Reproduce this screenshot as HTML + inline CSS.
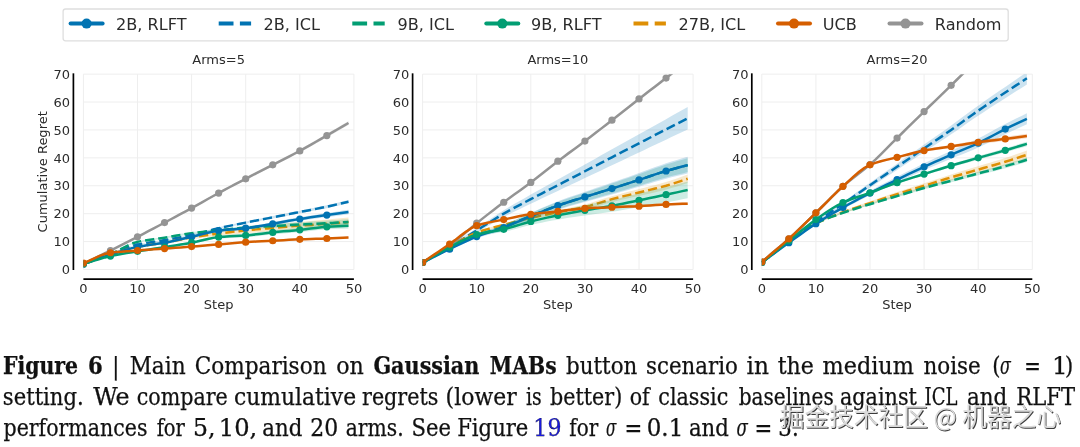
<!DOCTYPE html>
<html><head><meta charset="utf-8"><style>html,body{margin:0;padding:0;background:#fff;width:1080px;height:447px;overflow:hidden;position:relative}</style></head>
<body>
<svg width="1080" height="447" viewBox="0 0 1080 447" style="position:absolute;left:0;top:0;will-change:transform">
<defs>
<clipPath id="c0"><rect x="83.40" y="74.13" width="270.50" height="195.37"/></clipPath>
<clipPath id="c1"><rect x="422.60" y="74.13" width="270.50" height="195.37"/></clipPath>
<clipPath id="c2"><rect x="761.80" y="74.13" width="270.50" height="195.37"/></clipPath>
</defs>
<rect width="1080" height="447" fill="#fff"/>
<path d="M83.40 269.50H353.90M83.40 241.59H353.90M83.40 213.68H353.90M83.40 185.77H353.90M83.40 157.86H353.90M83.40 129.95H353.90M83.40 102.04H353.90M83.40 74.13H353.90M83.40 269.50V74.13M137.50 269.50V74.13M191.60 269.50V74.13M245.70 269.50V74.13M299.80 269.50V74.13M353.90 269.50V74.13" stroke="#eeeeee" stroke-width="1" fill="none"/>
<g clip-path="url(#c0)">
<path d="M83.40 263.92 L88.81 261.20 L94.22 258.49 L99.63 255.78 L105.04 253.06 L110.45 250.32 L115.86 247.57 L121.27 244.82 L126.68 242.05 L132.09 239.26 L137.50 236.45 L142.91 233.60 L148.32 230.73 L153.73 227.83 L159.14 224.93 L164.55 222.01 L169.96 219.10 L175.37 216.17 L180.78 213.24 L186.19 210.28 L191.60 207.30 L197.01 204.27 L202.42 201.19 L207.83 198.10 L213.24 195.04 L218.65 192.03 L224.06 189.09 L229.47 186.18 L234.88 183.31 L240.29 180.45 L245.70 177.60 L251.11 174.75 L256.52 171.91 L261.93 169.09 L267.34 166.27 L272.75 163.44 L278.16 160.63 L283.57 157.84 L288.98 155.05 L294.39 152.20 L299.80 149.29 L305.21 146.28 L310.62 143.19 L316.03 140.05 L321.44 136.89 L326.85 133.74 L332.26 130.58 L337.67 127.40 L343.08 124.20 L348.49 121.02 L348.49 124.93 L343.08 128.03 L337.67 131.14 L332.26 134.25 L326.85 137.33 L321.44 140.40 L316.03 143.48 L310.62 146.54 L305.21 149.55 L299.80 152.48 L294.39 155.31 L288.98 158.08 L283.57 160.79 L278.16 163.50 L272.75 166.23 L267.34 168.98 L261.93 171.72 L256.52 174.47 L251.11 177.22 L245.70 179.99 L240.29 182.76 L234.88 185.54 L229.47 188.34 L224.06 191.16 L218.65 194.02 L213.24 196.95 L207.83 199.94 L202.42 202.95 L197.01 205.94 L191.60 208.90 L186.19 211.80 L180.78 214.67 L175.37 217.53 L169.96 220.37 L164.55 223.21 L159.14 226.04 L153.73 228.87 L148.32 231.68 L142.91 234.48 L137.50 237.24 L132.09 239.98 L126.68 242.69 L121.27 245.38 L115.86 248.05 L110.45 250.72 L105.04 253.38 L99.63 256.02 L94.22 258.65 L88.81 261.28 L83.40 263.92Z" fill="#949494" fill-opacity="0.2" stroke="none"/>
<path d="M83.40 263.92 L88.81 261.24 L94.22 258.57 L99.63 255.90 L105.04 253.22 L110.45 250.52 L115.86 247.81 L121.27 245.10 L126.68 242.37 L132.09 239.62 L137.50 236.85 L142.91 234.04 L148.32 231.21 L153.73 228.35 L159.14 225.48 L164.55 222.61 L169.96 219.74 L175.37 216.85 L180.78 213.96 L186.19 211.04 L191.60 208.10 L197.01 205.11 L202.42 202.07 L207.83 199.02 L213.24 195.99 L218.65 193.03 L224.06 190.12 L229.47 187.26 L234.88 184.43 L240.29 181.61 L245.70 178.79 L251.11 175.98 L256.52 173.19 L261.93 170.41 L267.34 167.62 L272.75 164.84 L278.16 162.07 L283.57 159.32 L288.98 156.56 L294.39 153.76 L299.80 150.88 L305.21 147.91 L310.62 144.86 L316.03 141.77 L321.44 138.65 L326.85 135.53 L332.26 132.41 L337.67 129.27 L343.08 126.12 L348.49 122.97" stroke="#949494" stroke-width="2.5" fill="none" stroke-linejoin="round"/>
<circle cx="83.40" cy="263.92" r="3.6" fill="#949494"/>
<circle cx="110.45" cy="250.52" r="3.6" fill="#949494"/>
<circle cx="137.50" cy="236.85" r="3.6" fill="#949494"/>
<circle cx="164.55" cy="222.61" r="3.6" fill="#949494"/>
<circle cx="191.60" cy="208.10" r="3.6" fill="#949494"/>
<circle cx="218.65" cy="193.03" r="3.6" fill="#949494"/>
<circle cx="245.70" cy="178.79" r="3.6" fill="#949494"/>
<circle cx="272.75" cy="164.84" r="3.6" fill="#949494"/>
<circle cx="299.80" cy="150.88" r="3.6" fill="#949494"/>
<circle cx="326.85" cy="135.53" r="3.6" fill="#949494"/>
<path d="M83.40 263.92 L88.81 261.93 L94.22 259.93 L99.63 257.93 L105.04 255.95 L110.45 253.98 L115.86 251.92 L121.27 249.77 L126.68 247.68 L132.09 245.81 L137.50 244.32 L142.91 243.19 L148.32 242.26 L153.73 241.42 L159.14 240.59 L164.55 239.68 L169.96 238.71 L175.37 237.73 L180.78 236.71 L186.19 235.64 L191.60 234.49 L197.01 233.18 L202.42 231.72 L207.83 230.20 L213.24 228.71 L218.65 227.34 L224.06 226.10 L229.47 224.93 L234.88 223.81 L240.29 222.70 L245.70 221.59 L251.11 220.47 L256.52 219.38 L261.93 218.29 L267.34 217.20 L272.75 216.11 L278.16 215.02 L283.57 213.92 L288.98 212.83 L294.39 211.73 L299.80 210.64 L305.21 209.56 L310.62 208.49 L316.03 207.42 L321.44 206.32 L326.85 205.16 L332.26 203.93 L337.67 202.64 L343.08 201.31 L348.49 200.00 L348.49 203.35 L343.08 204.59 L337.67 205.85 L332.26 207.08 L326.85 208.24 L321.44 209.33 L316.03 210.36 L310.62 211.36 L305.21 212.36 L299.80 213.37 L294.39 214.40 L288.98 215.43 L283.57 216.45 L278.16 217.48 L272.75 218.50 L267.34 219.53 L261.93 220.54 L256.52 221.56 L251.11 222.59 L245.70 223.64 L240.29 224.68 L234.88 225.72 L229.47 226.78 L224.06 227.88 L218.65 229.05 L213.24 230.35 L207.83 231.77 L202.42 233.22 L197.01 234.61 L191.60 235.85 L186.19 236.94 L180.78 237.94 L175.37 238.89 L169.96 239.80 L164.55 240.71 L159.14 241.55 L153.73 242.31 L148.32 243.08 L142.91 243.95 L137.50 245.00 L132.09 246.42 L126.68 248.22 L121.27 250.25 L115.86 252.33 L110.45 254.32 L105.04 256.22 L99.63 258.14 L94.22 260.07 L88.81 261.99 L83.40 263.92Z" fill="#0173B2" fill-opacity="0.2" stroke="none"/>
<path d="M83.40 263.92 L88.81 261.96 L94.22 260.00 L99.63 258.04 L105.04 256.09 L110.45 254.15 L115.86 252.12 L121.27 250.01 L126.68 247.95 L132.09 246.12 L137.50 244.66 L142.91 243.57 L148.32 242.67 L153.73 241.86 L159.14 241.07 L164.55 240.19 L169.96 239.25 L175.37 238.31 L180.78 237.33 L186.19 236.29 L191.60 235.17 L197.01 233.90 L202.42 232.47 L207.83 230.98 L213.24 229.53 L218.65 228.19 L224.06 226.99 L229.47 225.86 L234.88 224.76 L240.29 223.69 L245.70 222.61 L251.11 221.53 L256.52 220.47 L261.93 219.42 L267.34 218.36 L272.75 217.31 L278.16 216.25 L283.57 215.19 L288.98 214.13 L294.39 213.07 L299.80 212.01 L305.21 210.96 L310.62 209.93 L316.03 208.89 L321.44 207.82 L326.85 206.70 L332.26 205.50 L337.67 204.24 L343.08 202.95 L348.49 201.68" stroke="#0173B2" stroke-width="2.5" fill="none" stroke-linejoin="round" stroke-dasharray="9.25 4"/>
<path d="M83.40 263.92 L88.81 261.96 L94.22 259.98 L99.63 258.01 L105.04 256.09 L110.45 254.25 L115.86 252.44 L121.27 250.62 L126.68 248.89 L132.09 247.31 L137.50 245.98 L142.91 244.91 L148.32 243.99 L153.73 243.15 L159.14 242.29 L164.55 241.34 L169.96 240.24 L175.37 239.05 L180.78 237.83 L186.19 236.65 L191.60 235.58 L197.01 234.62 L202.42 233.71 L207.83 232.84 L213.24 232.01 L218.65 231.22 L224.06 230.46 L229.47 229.72 L234.88 229.02 L240.29 228.35 L245.70 227.69 L251.11 227.06 L256.52 226.45 L261.93 225.87 L267.34 225.29 L272.75 224.72 L278.16 224.17 L283.57 223.62 L288.98 223.08 L294.39 222.55 L299.80 222.04 L305.21 221.54 L310.62 221.06 L316.03 220.59 L321.44 220.11 L326.85 219.63 L332.26 219.12 L337.67 218.61 L343.08 218.10 L348.49 217.59 L348.49 226.52 L343.08 226.85 L337.67 227.18 L332.26 227.51 L326.85 227.83 L321.44 228.13 L316.03 228.43 L310.62 228.72 L305.21 229.01 L299.80 229.33 L294.39 229.66 L288.98 230.00 L283.57 230.36 L278.16 230.73 L272.75 231.10 L267.34 231.49 L261.93 231.88 L256.52 232.29 L251.11 232.71 L245.70 233.16 L240.29 233.63 L234.88 234.13 L229.47 234.65 L224.06 235.19 L218.65 235.77 L213.24 236.39 L207.83 237.03 L202.42 237.72 L197.01 238.45 L191.60 239.23 L186.19 240.11 L180.78 241.11 L175.37 242.15 L169.96 243.16 L164.55 244.07 L159.14 244.84 L153.73 245.52 L148.32 246.18 L142.91 246.91 L137.50 247.80 L132.09 248.95 L126.68 250.35 L121.27 251.90 L115.86 253.53 L110.45 255.16 L105.04 256.82 L99.63 258.56 L94.22 260.34 L88.81 262.14 L83.40 263.92Z" fill="#DE8F05" fill-opacity="0.2" stroke="none"/>
<path d="M83.40 263.92 L88.81 262.05 L94.22 260.16 L99.63 258.28 L105.04 256.45 L110.45 254.71 L115.86 252.99 L121.27 251.26 L126.68 249.62 L132.09 248.13 L137.50 246.89 L142.91 245.91 L148.32 245.08 L153.73 244.33 L159.14 243.57 L164.55 242.71 L169.96 241.70 L175.37 240.60 L180.78 239.47 L186.19 238.38 L191.60 237.40 L197.01 236.53 L202.42 235.71 L207.83 234.93 L213.24 234.20 L218.65 233.50 L224.06 232.83 L229.47 232.19 L234.88 231.57 L240.29 230.99 L245.70 230.43 L251.11 229.89 L256.52 229.37 L261.93 228.87 L267.34 228.39 L272.75 227.91 L278.16 227.45 L283.57 226.99 L288.98 226.54 L294.39 226.10 L299.80 225.68 L305.21 225.28 L310.62 224.89 L316.03 224.51 L321.44 224.12 L326.85 223.73 L332.26 223.32 L337.67 222.90 L343.08 222.47 L348.49 222.05" stroke="#DE8F05" stroke-width="2.5" fill="none" stroke-linejoin="round" stroke-dasharray="9.25 4"/>
<path d="M83.40 263.92 L88.81 261.94 L94.22 260.00 L99.63 258.05 L105.04 256.02 L110.45 253.86 L115.86 251.34 L121.27 248.46 L126.68 245.59 L132.09 243.08 L137.50 241.30 L142.91 240.15 L148.32 239.23 L153.73 238.44 L159.14 237.67 L164.55 236.83 L169.96 235.86 L175.37 234.85 L180.78 233.84 L186.19 232.90 L191.60 232.08 L197.01 231.38 L202.42 230.75 L207.83 230.17 L213.24 229.60 L218.65 229.00 L224.06 228.36 L229.47 227.70 L234.88 227.06 L240.29 226.45 L245.70 225.93 L251.11 225.48 L256.52 225.07 L261.93 224.69 L267.34 224.33 L272.75 223.97 L278.16 223.61 L283.57 223.28 L288.98 222.95 L294.39 222.62 L299.80 222.29 L305.21 221.95 L310.62 221.61 L316.03 221.28 L321.44 220.94 L326.85 220.61 L332.26 220.27 L337.67 219.93 L343.08 219.60 L348.49 219.26 L348.49 224.84 L343.08 225.07 L337.67 225.29 L332.26 225.51 L326.85 225.73 L321.44 225.95 L316.03 226.18 L310.62 226.40 L305.21 226.62 L299.80 226.84 L294.39 227.06 L288.98 227.28 L283.57 227.49 L278.16 227.72 L272.75 227.95 L267.34 228.20 L261.93 228.45 L256.52 228.71 L251.11 229.01 L245.70 229.34 L240.29 229.76 L234.88 230.25 L229.47 230.78 L224.06 231.33 L218.65 231.85 L213.24 232.33 L207.83 232.79 L202.42 233.26 L197.01 233.77 L191.60 234.36 L186.19 235.07 L180.78 235.89 L175.37 236.79 L169.96 237.69 L164.55 238.54 L159.14 239.27 L153.73 239.92 L148.32 240.59 L142.91 241.40 L137.50 242.44 L132.09 244.11 L126.68 246.50 L121.27 249.26 L115.86 252.02 L110.45 254.43 L105.04 256.47 L99.63 258.39 L94.22 260.23 L88.81 262.06 L83.40 263.92Z" fill="#029E73" fill-opacity="0.2" stroke="none"/>
<path d="M83.40 263.92 L88.81 262.00 L94.22 260.12 L99.63 258.22 L105.04 256.25 L110.45 254.15 L115.86 251.68 L121.27 248.86 L126.68 246.05 L132.09 243.60 L137.50 241.87 L142.91 240.77 L148.32 239.91 L153.73 239.18 L159.14 238.47 L164.55 237.68 L169.96 236.77 L175.37 235.82 L180.78 234.87 L186.19 233.98 L191.60 233.22 L197.01 232.58 L202.42 232.01 L207.83 231.48 L213.24 230.96 L218.65 230.43 L224.06 229.85 L229.47 229.24 L234.88 228.65 L240.29 228.10 L245.70 227.63 L251.11 227.24 L256.52 226.89 L261.93 226.57 L267.34 226.26 L272.75 225.96 L278.16 225.67 L283.57 225.38 L288.98 225.11 L294.39 224.84 L299.80 224.56 L305.21 224.29 L310.62 224.01 L316.03 223.73 L321.44 223.45 L326.85 223.17 L332.26 222.89 L337.67 222.61 L343.08 222.33 L348.49 222.05" stroke="#029E73" stroke-width="2.5" fill="none" stroke-linejoin="round" stroke-dasharray="9.25 4"/>
<path d="M83.40 263.92 L88.81 262.01 L94.22 260.07 L99.63 258.15 L105.04 256.27 L110.45 254.48 L115.86 252.71 L121.27 250.94 L126.68 249.25 L132.09 247.72 L137.50 246.44 L142.91 245.41 L148.32 244.56 L153.73 243.77 L159.14 242.95 L164.55 242.02 L169.96 240.93 L175.37 239.74 L180.78 238.48 L186.19 237.20 L191.60 235.93 L197.01 234.60 L202.42 233.16 L207.83 231.76 L213.24 230.51 L218.65 229.57 L224.06 228.91 L229.47 228.39 L234.88 227.92 L240.29 227.43 L245.70 226.83 L251.11 226.05 L256.52 225.14 L261.93 224.15 L267.34 223.13 L272.75 222.13 L278.16 221.14 L283.57 220.12 L288.98 219.10 L294.39 218.10 L299.80 217.16 L305.21 216.28 L310.62 215.45 L316.03 214.64 L321.44 213.84 L326.85 213.02 L332.26 212.21 L337.67 211.40 L343.08 210.58 L348.49 209.77 L348.49 214.24 L343.08 214.96 L337.67 215.68 L332.26 216.40 L326.85 217.13 L321.44 217.85 L316.03 218.56 L310.62 219.28 L305.21 220.02 L299.80 220.81 L294.39 221.65 L288.98 222.56 L283.57 223.49 L278.16 224.42 L272.75 225.32 L267.34 226.23 L261.93 227.16 L256.52 228.06 L251.11 228.88 L245.70 229.56 L240.29 230.07 L234.88 230.47 L229.47 230.85 L224.06 231.28 L218.65 231.84 L213.24 232.70 L207.83 233.85 L202.42 235.17 L197.01 236.51 L191.60 237.76 L186.19 238.93 L180.78 240.12 L175.37 241.29 L169.96 242.39 L164.55 243.39 L159.14 244.23 L153.73 244.95 L148.32 245.65 L142.91 246.42 L137.50 247.35 L132.09 248.54 L126.68 249.98 L121.27 251.58 L115.86 253.26 L110.45 254.94 L105.04 256.64 L99.63 258.42 L94.22 260.25 L88.81 262.10 L83.40 263.92Z" fill="#0173B2" fill-opacity="0.2" stroke="none"/>
<path d="M83.40 263.92 L88.81 262.05 L94.22 260.16 L99.63 258.28 L105.04 256.45 L110.45 254.71 L115.86 252.99 L121.27 251.26 L126.68 249.62 L132.09 248.13 L137.50 246.89 L142.91 245.92 L148.32 245.10 L153.73 244.36 L159.14 243.59 L164.55 242.71 L169.96 241.66 L175.37 240.52 L180.78 239.30 L186.19 238.07 L191.60 236.85 L197.01 235.55 L202.42 234.16 L207.83 232.80 L213.24 231.61 L218.65 230.71 L224.06 230.09 L229.47 229.62 L234.88 229.20 L240.29 228.75 L245.70 228.19 L251.11 227.46 L256.52 226.60 L261.93 225.65 L267.34 224.68 L272.75 223.73 L278.16 222.78 L283.57 221.81 L288.98 220.83 L294.39 219.88 L299.80 218.98 L305.21 218.15 L310.62 217.36 L316.03 216.60 L321.44 215.84 L326.85 215.08 L332.26 214.30 L337.67 213.54 L343.08 212.77 L348.49 212.01" stroke="#0173B2" stroke-width="2.5" fill="none" stroke-linejoin="round"/>
<circle cx="83.40" cy="263.92" r="3.6" fill="#0173B2"/>
<circle cx="110.45" cy="254.71" r="3.6" fill="#0173B2"/>
<circle cx="137.50" cy="246.89" r="3.6" fill="#0173B2"/>
<circle cx="164.55" cy="242.71" r="3.6" fill="#0173B2"/>
<circle cx="191.60" cy="236.85" r="3.6" fill="#0173B2"/>
<circle cx="218.65" cy="230.71" r="3.6" fill="#0173B2"/>
<circle cx="245.70" cy="228.19" r="3.6" fill="#0173B2"/>
<circle cx="272.75" cy="223.73" r="3.6" fill="#0173B2"/>
<circle cx="299.80" cy="218.98" r="3.6" fill="#0173B2"/>
<circle cx="326.85" cy="215.08" r="3.6" fill="#0173B2"/>
<path d="M83.40 263.92 L88.81 262.24 L94.22 260.49 L99.63 258.78 L105.04 257.19 L110.45 255.82 L115.86 254.65 L121.27 253.61 L126.68 252.65 L132.09 251.72 L137.50 250.79 L142.91 249.87 L148.32 248.98 L153.73 248.10 L159.14 247.22 L164.55 246.32 L169.96 245.40 L175.37 244.49 L180.78 243.55 L186.19 242.59 L191.60 241.57 L197.01 240.38 L202.42 239.02 L207.83 237.67 L213.24 236.51 L218.65 235.70 L224.06 235.21 L229.47 234.83 L234.88 234.51 L240.29 234.17 L245.70 233.74 L251.11 233.18 L256.52 232.50 L261.93 231.77 L267.34 231.05 L272.75 230.39 L278.16 229.80 L283.57 229.26 L288.98 228.72 L294.39 228.17 L299.80 227.59 L305.21 226.92 L310.62 226.18 L316.03 225.44 L321.44 224.76 L326.85 224.23 L332.26 223.84 L337.67 223.51 L343.08 223.21 L348.49 222.89 L348.49 228.47 L343.08 228.68 L337.67 228.87 L332.26 229.08 L326.85 229.36 L321.44 229.78 L316.03 230.33 L310.62 230.96 L305.21 231.59 L299.80 232.15 L294.39 232.62 L288.98 233.05 L283.57 233.47 L278.16 233.90 L272.75 234.37 L267.34 234.92 L261.93 235.53 L256.52 236.15 L251.11 236.71 L245.70 237.16 L240.29 237.47 L234.88 237.70 L229.47 237.91 L224.06 238.17 L218.65 238.55 L213.24 239.24 L207.83 240.29 L202.42 241.53 L197.01 242.77 L191.60 243.85 L186.19 244.75 L180.78 245.60 L175.37 246.42 L169.96 247.22 L164.55 248.03 L159.14 248.82 L153.73 249.58 L148.32 250.34 L142.91 251.12 L137.50 251.93 L132.09 252.75 L126.68 253.56 L121.27 254.41 L115.86 255.34 L110.45 256.39 L105.04 257.65 L99.63 259.12 L94.22 260.72 L88.81 262.35 L83.40 263.92Z" fill="#029E73" fill-opacity="0.2" stroke="none"/>
<path d="M83.40 263.92 L88.81 262.29 L94.22 260.61 L99.63 258.95 L105.04 257.42 L110.45 256.10 L115.86 255.00 L121.27 254.01 L126.68 253.10 L132.09 252.23 L137.50 251.36 L142.91 250.49 L148.32 249.66 L153.73 248.84 L159.14 248.02 L164.55 247.17 L169.96 246.31 L175.37 245.45 L180.78 244.58 L186.19 243.67 L191.60 242.71 L197.01 241.57 L202.42 240.27 L207.83 238.98 L213.24 237.88 L218.65 237.12 L224.06 236.69 L229.47 236.37 L234.88 236.10 L240.29 235.82 L245.70 235.45 L251.11 234.94 L256.52 234.32 L261.93 233.65 L267.34 232.98 L272.75 232.38 L278.16 231.85 L283.57 231.36 L288.98 230.88 L294.39 230.39 L299.80 229.87 L305.21 229.26 L310.62 228.57 L316.03 227.89 L321.44 227.27 L326.85 226.80 L332.26 226.46 L337.67 226.19 L343.08 225.94 L348.49 225.68" stroke="#029E73" stroke-width="2.5" fill="none" stroke-linejoin="round"/>
<circle cx="83.40" cy="263.92" r="3.6" fill="#029E73"/>
<circle cx="110.45" cy="256.10" r="3.6" fill="#029E73"/>
<circle cx="137.50" cy="251.36" r="3.6" fill="#029E73"/>
<circle cx="164.55" cy="247.17" r="3.6" fill="#029E73"/>
<circle cx="191.60" cy="242.71" r="3.6" fill="#029E73"/>
<circle cx="218.65" cy="237.12" r="3.6" fill="#029E73"/>
<circle cx="245.70" cy="235.45" r="3.6" fill="#029E73"/>
<circle cx="272.75" cy="232.38" r="3.6" fill="#029E73"/>
<circle cx="299.80" cy="229.87" r="3.6" fill="#029E73"/>
<circle cx="326.85" cy="226.80" r="3.6" fill="#029E73"/>
<path d="M83.40 263.08 L88.81 260.79 L94.22 258.28 L99.63 255.88 L105.04 253.90 L110.45 252.67 L115.86 252.02 L121.27 251.52 L126.68 251.12 L132.09 250.75 L137.50 250.35 L142.91 249.93 L148.32 249.52 L153.73 249.11 L159.14 248.71 L164.55 248.31 L169.96 247.91 L175.37 247.51 L180.78 247.11 L186.19 246.70 L191.60 246.27 L197.01 245.83 L202.42 245.37 L207.83 244.90 L213.24 244.42 L218.65 243.95 L224.06 243.47 L229.47 242.98 L234.88 242.49 L240.29 242.03 L245.70 241.64 L251.11 241.30 L256.52 241.00 L261.93 240.72 L267.34 240.44 L272.75 240.15 L278.16 239.85 L283.57 239.53 L288.98 239.22 L294.39 238.93 L299.80 238.67 L305.21 238.47 L310.62 238.30 L316.03 238.13 L321.44 237.96 L326.85 237.75 L332.26 237.49 L337.67 237.19 L343.08 236.88 L348.49 236.57 L348.49 238.24 L343.08 238.52 L337.67 238.80 L332.26 239.06 L326.85 239.29 L321.44 239.46 L316.03 239.60 L310.62 239.73 L305.21 239.87 L299.80 240.04 L294.39 240.26 L288.98 240.51 L283.57 240.79 L278.16 241.08 L272.75 241.35 L267.34 241.60 L261.93 241.84 L256.52 242.09 L251.11 242.36 L245.70 242.66 L240.29 243.02 L234.88 243.45 L229.47 243.90 L224.06 244.36 L218.65 244.81 L213.24 245.24 L207.83 245.68 L202.42 246.12 L197.01 246.55 L191.60 246.96 L186.19 247.35 L180.78 247.72 L175.37 248.09 L169.96 248.45 L164.55 248.82 L159.14 249.19 L153.73 249.56 L148.32 249.93 L142.91 250.30 L137.50 250.69 L132.09 251.06 L126.68 251.39 L121.27 251.76 L115.86 252.22 L110.45 252.84 L105.04 254.04 L99.63 255.98 L94.22 258.35 L88.81 260.82 L83.40 263.08Z" fill="#D55E00" fill-opacity="0.2" stroke="none"/>
<path d="M83.40 263.08 L88.81 260.80 L94.22 258.31 L99.63 255.93 L105.04 253.97 L110.45 252.75 L115.86 252.12 L121.27 251.64 L126.68 251.25 L132.09 250.90 L137.50 250.52 L142.91 250.11 L148.32 249.72 L153.73 249.34 L159.14 248.95 L164.55 248.57 L169.96 248.18 L175.37 247.80 L180.78 247.41 L186.19 247.02 L191.60 246.61 L197.01 246.19 L202.42 245.74 L207.83 245.29 L213.24 244.83 L218.65 244.38 L224.06 243.92 L229.47 243.44 L234.88 242.97 L240.29 242.53 L245.70 242.15 L251.11 241.83 L256.52 241.54 L261.93 241.28 L267.34 241.02 L272.75 240.75 L278.16 240.46 L283.57 240.16 L288.98 239.87 L294.39 239.59 L299.80 239.36 L305.21 239.17 L310.62 239.01 L316.03 238.87 L321.44 238.71 L326.85 238.52 L332.26 238.28 L337.67 238.00 L343.08 237.70 L348.49 237.40" stroke="#D55E00" stroke-width="2.5" fill="none" stroke-linejoin="round"/>
<circle cx="83.40" cy="263.08" r="3.6" fill="#D55E00"/>
<circle cx="110.45" cy="252.75" r="3.6" fill="#D55E00"/>
<circle cx="137.50" cy="250.52" r="3.6" fill="#D55E00"/>
<circle cx="164.55" cy="248.57" r="3.6" fill="#D55E00"/>
<circle cx="191.60" cy="246.61" r="3.6" fill="#D55E00"/>
<circle cx="218.65" cy="244.38" r="3.6" fill="#D55E00"/>
<circle cx="245.70" cy="242.15" r="3.6" fill="#D55E00"/>
<circle cx="272.75" cy="240.75" r="3.6" fill="#D55E00"/>
<circle cx="299.80" cy="239.36" r="3.6" fill="#D55E00"/>
<circle cx="326.85" cy="238.52" r="3.6" fill="#D55E00"/>
</g>
<path d="M73.40 73.33V270.00" stroke="#000" stroke-width="1.7"/>
<path d="M83.40 279.20H353.90" stroke="#000" stroke-width="1.7"/>
<g font-family="DejaVu Sans" font-size="13" fill="#2b2b2b">
<text x="70.10" y="274.20" text-anchor="end">0</text>
<text x="70.10" y="246.29" text-anchor="end">10</text>
<text x="70.10" y="218.38" text-anchor="end">20</text>
<text x="70.10" y="190.47" text-anchor="end">30</text>
<text x="70.10" y="162.56" text-anchor="end">40</text>
<text x="70.10" y="134.65" text-anchor="end">50</text>
<text x="70.10" y="106.74" text-anchor="end">60</text>
<text x="70.10" y="78.83" text-anchor="end">70</text>
<text x="83.40" y="292.5" text-anchor="middle">0</text>
<text x="137.50" y="292.5" text-anchor="middle">10</text>
<text x="191.60" y="292.5" text-anchor="middle">20</text>
<text x="245.70" y="292.5" text-anchor="middle">30</text>
<text x="299.80" y="292.5" text-anchor="middle">40</text>
<text x="353.90" y="292.5" text-anchor="middle">50</text>
<text x="218.65" y="64.2" text-anchor="middle">Arms=5</text>
<text x="218.65" y="309" text-anchor="middle">Step</text>
<text transform="translate(46.8 171.81) rotate(-90)" text-anchor="middle">Cumulative Regret</text>
</g>
<path d="M422.60 269.50H693.10M422.60 241.59H693.10M422.60 213.68H693.10M422.60 185.77H693.10M422.60 157.86H693.10M422.60 129.95H693.10M422.60 102.04H693.10M422.60 74.13H693.10M422.60 269.50V74.13M476.70 269.50V74.13M530.80 269.50V74.13M584.90 269.50V74.13M639.00 269.50V74.13M693.10 269.50V74.13" stroke="#eeeeee" stroke-width="1" fill="none"/>
<g clip-path="url(#c1)">
<path d="M422.60 262.52 L428.01 259.22 L433.42 256.00 L438.83 252.73 L444.24 249.31 L449.65 245.61 L455.06 241.45 L460.47 236.90 L465.88 232.14 L471.29 227.38 L476.70 222.83 L482.11 218.49 L487.52 214.22 L492.93 210.01 L498.34 205.85 L503.75 201.72 L509.16 197.68 L514.57 193.72 L519.98 189.78 L525.39 185.80 L530.80 181.74 L536.21 177.53 L541.62 173.23 L547.03 168.89 L552.44 164.58 L557.85 160.35 L563.26 156.25 L568.67 152.21 L574.08 148.20 L579.49 144.18 L584.90 140.09 L590.31 135.93 L595.72 131.72 L601.13 127.49 L606.54 123.24 L611.95 118.99 L617.36 114.72 L622.77 110.44 L628.18 106.15 L633.59 101.87 L639.00 97.60 L644.41 93.36 L649.82 89.14 L655.23 84.93 L660.64 80.72 L666.05 76.50 L671.46 72.28 L676.87 68.06 L682.28 63.84 L687.69 59.62 L687.69 62.97 L682.28 67.12 L676.87 71.27 L671.46 75.42 L666.05 79.58 L660.64 83.72 L655.23 87.87 L649.82 92.01 L644.41 96.17 L639.00 100.34 L633.59 104.53 L628.18 108.75 L622.77 112.97 L617.36 117.18 L611.95 121.38 L606.54 125.56 L601.13 129.74 L595.72 133.91 L590.31 138.05 L584.90 142.14 L579.49 146.16 L574.08 150.12 L568.67 154.06 L563.26 158.02 L557.85 162.06 L552.44 166.22 L547.03 170.47 L541.62 174.74 L536.21 178.97 L530.80 183.10 L525.39 187.10 L519.98 191.01 L514.57 194.88 L509.16 198.77 L503.75 202.75 L498.34 206.80 L492.93 210.89 L487.52 215.04 L482.11 219.24 L476.70 223.51 L471.29 227.99 L465.88 232.68 L460.47 237.37 L455.06 241.86 L449.65 245.95 L444.24 249.58 L438.83 252.94 L433.42 256.13 L428.01 259.29 L422.60 262.52Z" fill="#949494" fill-opacity="0.2" stroke="none"/>
<path d="M422.60 262.52 L428.01 259.25 L433.42 256.06 L438.83 252.83 L444.24 249.44 L449.65 245.78 L455.06 241.66 L460.47 237.14 L465.88 232.41 L471.29 227.69 L476.70 223.17 L482.11 218.86 L487.52 214.63 L492.93 210.45 L498.34 206.32 L503.75 202.24 L509.16 198.23 L514.57 194.30 L519.98 190.39 L525.39 186.45 L530.80 182.42 L536.21 178.25 L541.62 173.99 L547.03 169.68 L552.44 165.40 L557.85 161.21 L563.26 157.13 L568.67 153.13 L574.08 149.16 L579.49 145.17 L584.90 141.11 L590.31 136.99 L595.72 132.82 L601.13 128.62 L606.54 124.40 L611.95 120.18 L617.36 115.95 L622.77 111.70 L628.18 107.45 L633.59 103.20 L639.00 98.97 L644.41 94.77 L649.82 90.58 L655.23 86.40 L660.64 82.22 L666.05 78.04 L671.46 73.85 L676.87 69.66 L682.28 65.48 L687.69 61.29" stroke="#949494" stroke-width="2.5" fill="none" stroke-linejoin="round"/>
<circle cx="422.60" cy="262.52" r="3.6" fill="#949494"/>
<circle cx="449.65" cy="245.78" r="3.6" fill="#949494"/>
<circle cx="476.70" cy="223.17" r="3.6" fill="#949494"/>
<circle cx="503.75" cy="202.24" r="3.6" fill="#949494"/>
<circle cx="530.80" cy="182.42" r="3.6" fill="#949494"/>
<circle cx="557.85" cy="161.21" r="3.6" fill="#949494"/>
<circle cx="584.90" cy="141.11" r="3.6" fill="#949494"/>
<circle cx="611.95" cy="120.18" r="3.6" fill="#949494"/>
<circle cx="639.00" cy="98.97" r="3.6" fill="#949494"/>
<circle cx="666.05" cy="78.04" r="3.6" fill="#949494"/>
<path d="M422.60 262.52 L428.01 259.25 L433.42 255.99 L438.83 252.72 L444.24 249.42 L449.65 246.03 L455.06 242.55 L460.47 238.98 L465.88 235.37 L471.29 231.75 L476.70 228.15 L482.11 224.53 L487.52 220.88 L492.93 217.24 L498.34 213.69 L503.75 210.26 L509.16 206.99 L514.57 203.82 L519.98 200.73 L525.39 197.67 L530.80 194.61 L536.21 191.56 L541.62 188.53 L547.03 185.53 L552.44 182.53 L557.85 179.52 L563.26 176.50 L568.67 173.48 L574.08 170.46 L579.49 167.44 L584.90 164.42 L590.31 161.40 L595.72 158.38 L601.13 155.37 L606.54 152.35 L611.95 149.33 L617.36 146.31 L622.77 143.29 L628.18 140.27 L633.59 137.25 L639.00 134.23 L644.41 131.21 L649.82 128.20 L655.23 125.18 L660.64 122.16 L666.05 119.14 L671.46 116.12 L676.87 113.10 L682.28 110.08 L687.69 107.06 L687.69 129.39 L682.28 131.95 L676.87 134.52 L671.46 137.08 L666.05 139.64 L660.64 142.21 L655.23 144.77 L649.82 147.33 L644.41 149.90 L639.00 152.46 L633.59 155.02 L628.18 157.59 L622.77 160.15 L617.36 162.71 L611.95 165.28 L606.54 167.84 L601.13 170.40 L595.72 172.97 L590.31 175.53 L584.90 178.09 L579.49 180.66 L574.08 183.22 L568.67 185.78 L563.26 188.34 L557.85 190.91 L552.44 193.46 L547.03 196.01 L541.62 198.56 L536.21 201.13 L530.80 203.72 L525.39 206.33 L519.98 208.93 L514.57 211.57 L509.16 214.28 L503.75 217.10 L498.34 220.07 L492.93 223.17 L487.52 226.35 L482.11 229.54 L476.70 232.70 L471.29 235.85 L465.88 239.02 L460.47 242.17 L455.06 245.28 L449.65 248.31 L444.24 251.24 L438.83 254.09 L433.42 256.90 L428.01 259.70 L422.60 262.52Z" fill="#0173B2" fill-opacity="0.2" stroke="none"/>
<path d="M422.60 262.52 L428.01 259.47 L433.42 256.45 L438.83 253.41 L444.24 250.33 L449.65 247.17 L455.06 243.92 L460.47 240.58 L465.88 237.19 L471.29 233.80 L476.70 230.43 L482.11 227.04 L487.52 223.61 L492.93 220.21 L498.34 216.88 L503.75 213.68 L509.16 210.64 L514.57 207.70 L519.98 204.83 L525.39 202.00 L530.80 199.17 L536.21 196.34 L541.62 193.55 L547.03 190.77 L552.44 187.99 L557.85 185.21 L563.26 182.42 L568.67 179.63 L574.08 176.84 L579.49 174.05 L584.90 171.26 L590.31 168.47 L595.72 165.67 L601.13 162.88 L606.54 160.09 L611.95 157.30 L617.36 154.51 L622.77 151.72 L628.18 148.93 L633.59 146.14 L639.00 143.35 L644.41 140.56 L649.82 137.76 L655.23 134.97 L660.64 132.18 L666.05 129.39 L671.46 126.60 L676.87 123.81 L682.28 121.02 L687.69 118.23" stroke="#0173B2" stroke-width="2.5" fill="none" stroke-linejoin="round" stroke-dasharray="9.25 4"/>
<path d="M422.60 262.52 L428.01 259.22 L433.42 255.89 L438.83 252.57 L444.24 249.32 L449.65 246.19 L455.06 243.07 L460.47 239.92 L465.88 236.90 L471.29 234.15 L476.70 231.80 L482.11 229.86 L487.52 228.15 L492.93 226.58 L498.34 225.08 L503.75 223.56 L509.16 222.01 L514.57 220.47 L519.98 218.97 L525.39 217.53 L530.80 216.16 L536.21 214.87 L541.62 213.65 L547.03 212.47 L552.44 211.31 L557.85 210.15 L563.26 209.02 L568.67 207.93 L574.08 206.84 L579.49 205.69 L584.90 204.42 L590.31 202.94 L595.72 201.28 L601.13 199.53 L606.54 197.80 L611.95 196.18 L617.36 194.69 L622.77 193.25 L628.18 191.85 L633.59 190.46 L639.00 189.05 L644.41 187.66 L649.82 186.29 L655.23 184.91 L660.64 183.47 L666.05 181.93 L671.46 180.22 L676.87 178.38 L682.28 176.48 L687.69 174.61 L687.69 182.98 L682.28 184.68 L676.87 186.41 L671.46 188.08 L666.05 189.61 L660.64 190.99 L655.23 192.26 L649.82 193.47 L644.41 194.66 L639.00 195.89 L633.59 197.12 L628.18 198.34 L622.77 199.57 L617.36 200.84 L611.95 202.16 L606.54 203.61 L601.13 205.17 L595.72 206.75 L590.31 208.24 L584.90 209.54 L579.49 210.65 L574.08 211.63 L568.67 212.55 L563.26 213.46 L557.85 214.42 L552.44 215.41 L547.03 216.40 L541.62 217.41 L536.21 218.46 L530.80 219.58 L525.39 220.77 L519.98 222.05 L514.57 223.37 L509.16 224.74 L503.75 226.13 L498.34 227.48 L492.93 228.81 L487.52 230.20 L482.11 231.74 L476.70 233.51 L471.29 235.69 L465.88 238.27 L460.47 241.12 L455.06 244.09 L449.65 247.04 L444.24 250.00 L438.83 253.08 L433.42 256.23 L428.01 259.39 L422.60 262.52Z" fill="#DE8F05" fill-opacity="0.2" stroke="none"/>
<path d="M422.60 262.52 L428.01 259.31 L433.42 256.06 L438.83 252.83 L444.24 249.66 L449.65 246.61 L455.06 243.58 L460.47 240.52 L465.88 237.59 L471.29 234.92 L476.70 232.66 L482.11 230.80 L487.52 229.17 L492.93 227.69 L498.34 226.28 L503.75 224.84 L509.16 223.37 L514.57 221.92 L519.98 220.51 L525.39 219.15 L530.80 217.87 L536.21 216.67 L541.62 215.53 L547.03 214.44 L552.44 213.36 L557.85 212.28 L563.26 211.24 L568.67 210.24 L574.08 209.24 L579.49 208.17 L584.90 206.98 L590.31 205.59 L595.72 204.01 L601.13 202.35 L606.54 200.70 L611.95 199.17 L617.36 197.76 L622.77 196.41 L628.18 195.10 L633.59 193.79 L639.00 192.47 L644.41 191.16 L649.82 189.88 L655.23 188.58 L660.64 187.23 L666.05 185.77 L671.46 184.15 L676.87 182.39 L682.28 180.58 L687.69 178.79" stroke="#DE8F05" stroke-width="2.5" fill="none" stroke-linejoin="round" stroke-dasharray="9.25 4"/>
<path d="M422.60 262.52 L428.01 259.51 L433.42 256.47 L438.83 253.45 L444.24 250.47 L449.65 247.58 L455.06 244.70 L460.47 241.82 L465.88 239.02 L471.29 236.39 L476.70 234.03 L482.11 231.97 L487.52 230.13 L492.93 228.39 L498.34 226.61 L503.75 224.66 L509.16 222.49 L514.57 220.17 L519.98 217.78 L525.39 215.39 L530.80 213.06 L536.21 210.79 L541.62 208.52 L547.03 206.28 L552.44 204.11 L557.85 202.03 L563.26 200.05 L568.67 198.16 L574.08 196.31 L579.49 194.49 L584.90 192.66 L590.31 190.83 L595.72 189.02 L601.13 187.22 L606.54 185.41 L611.95 183.58 L617.36 181.73 L622.77 179.87 L628.18 177.99 L633.59 176.11 L639.00 174.21 L644.41 172.27 L649.82 170.29 L655.23 168.31 L660.64 166.39 L666.05 164.57 L671.46 162.88 L676.87 161.29 L682.28 159.72 L687.69 158.14 L687.69 172.09 L682.28 173.39 L676.87 174.67 L671.46 175.98 L666.05 177.39 L660.64 178.92 L655.23 180.56 L649.82 182.25 L644.41 183.95 L639.00 185.60 L633.59 187.21 L628.18 188.81 L622.77 190.40 L617.36 191.98 L611.95 193.54 L606.54 195.09 L601.13 196.62 L595.72 198.13 L590.31 199.66 L584.90 201.21 L579.49 202.75 L574.08 204.29 L568.67 205.85 L563.26 207.46 L557.85 209.15 L552.44 210.94 L547.03 212.83 L541.62 214.79 L536.21 216.77 L530.80 218.76 L525.39 220.80 L519.98 222.91 L514.57 225.02 L509.16 227.05 L503.75 228.93 L498.34 230.59 L492.93 232.09 L487.52 233.55 L482.11 235.10 L476.70 236.87 L471.29 238.96 L465.88 241.30 L460.47 243.81 L455.06 246.41 L449.65 249.00 L444.24 251.61 L438.83 254.30 L433.42 257.04 L428.01 259.79 L422.60 262.52Z" fill="#029E73" fill-opacity="0.2" stroke="none"/>
<path d="M422.60 262.52 L428.01 259.65 L433.42 256.76 L438.83 253.88 L444.24 251.04 L449.65 248.29 L455.06 245.56 L460.47 242.82 L465.88 240.16 L471.29 237.68 L476.70 235.45 L482.11 233.54 L487.52 231.84 L492.93 230.24 L498.34 228.60 L503.75 226.80 L509.16 224.77 L514.57 222.60 L519.98 220.34 L525.39 218.09 L530.80 215.91 L536.21 213.78 L541.62 211.66 L547.03 209.56 L552.44 207.53 L557.85 205.59 L563.26 203.75 L568.67 202.00 L574.08 200.30 L579.49 198.62 L584.90 196.93 L590.31 195.25 L595.72 193.58 L601.13 191.92 L606.54 190.25 L611.95 188.56 L617.36 186.85 L622.77 185.13 L628.18 183.40 L633.59 181.66 L639.00 179.91 L644.41 178.11 L649.82 176.27 L655.23 174.43 L660.64 172.65 L666.05 170.98 L671.46 169.43 L676.87 167.98 L682.28 166.56 L687.69 165.12" stroke="#029E73" stroke-width="2.5" fill="none" stroke-linejoin="round" stroke-dasharray="9.25 4"/>
<path d="M422.60 262.52 L428.01 259.66 L433.42 256.78 L438.83 253.91 L444.24 251.07 L449.65 248.27 L455.06 245.47 L460.47 242.64 L465.88 239.88 L471.29 237.26 L476.70 234.86 L482.11 232.74 L487.52 230.83 L492.93 229.00 L498.34 227.12 L503.75 225.07 L509.16 222.78 L514.57 220.31 L519.98 217.77 L525.39 215.22 L530.80 212.77 L536.21 210.40 L541.62 208.03 L547.03 205.70 L552.44 203.46 L557.85 201.31 L563.26 199.30 L568.67 197.37 L574.08 195.51 L579.49 193.66 L584.90 191.81 L590.31 189.95 L595.72 188.11 L601.13 186.28 L606.54 184.44 L611.95 182.58 L617.36 180.70 L622.77 178.81 L628.18 176.91 L633.59 175.00 L639.00 173.07 L644.41 171.11 L649.82 169.09 L655.23 167.08 L660.64 165.13 L666.05 163.29 L671.46 161.57 L676.87 159.95 L682.28 158.35 L687.69 156.74 L687.69 173.49 L682.28 174.76 L676.87 176.01 L671.46 177.29 L666.05 178.67 L660.64 180.17 L655.23 181.78 L649.82 183.45 L644.41 185.12 L639.00 186.74 L633.59 188.33 L628.18 189.90 L622.77 191.46 L617.36 193.00 L611.95 194.54 L606.54 196.06 L601.13 197.56 L595.72 199.05 L590.31 200.54 L584.90 202.06 L579.49 203.57 L574.08 205.07 L568.67 206.60 L563.26 208.18 L557.85 209.86 L552.44 211.66 L547.03 213.57 L541.62 215.55 L536.21 217.57 L530.80 219.61 L525.39 221.72 L519.98 223.92 L514.57 226.12 L509.16 228.25 L503.75 230.20 L498.34 231.91 L492.93 233.44 L487.52 234.93 L482.11 236.50 L476.70 238.27 L471.29 240.33 L465.88 242.61 L460.47 245.04 L455.06 247.52 L449.65 249.98 L444.24 252.43 L438.83 254.93 L433.42 257.46 L428.01 260.00 L422.60 262.52Z" fill="#0173B2" fill-opacity="0.2" stroke="none"/>
<path d="M422.60 262.52 L428.01 259.83 L433.42 257.12 L438.83 254.42 L444.24 251.75 L449.65 249.13 L455.06 246.49 L460.47 243.84 L465.88 241.25 L471.29 238.79 L476.70 236.57 L482.11 234.62 L487.52 232.88 L492.93 231.22 L498.34 229.51 L503.75 227.63 L509.16 225.51 L514.57 223.22 L519.98 220.84 L525.39 218.47 L530.80 216.19 L536.21 213.98 L541.62 211.79 L547.03 209.63 L552.44 207.56 L557.85 205.59 L563.26 203.74 L568.67 201.99 L574.08 200.29 L579.49 198.62 L584.90 196.93 L590.31 195.25 L595.72 193.58 L601.13 191.92 L606.54 190.25 L611.95 188.56 L617.36 186.85 L622.77 185.13 L628.18 183.40 L633.59 181.66 L639.00 179.91 L644.41 178.11 L649.82 176.27 L655.23 174.43 L660.64 172.65 L666.05 170.98 L671.46 169.43 L676.87 167.98 L682.28 166.56 L687.69 165.12" stroke="#0173B2" stroke-width="2.5" fill="none" stroke-linejoin="round"/>
<circle cx="422.60" cy="262.52" r="3.6" fill="#0173B2"/>
<circle cx="449.65" cy="249.13" r="3.6" fill="#0173B2"/>
<circle cx="476.70" cy="236.57" r="3.6" fill="#0173B2"/>
<circle cx="503.75" cy="227.63" r="3.6" fill="#0173B2"/>
<circle cx="530.80" cy="216.19" r="3.6" fill="#0173B2"/>
<circle cx="557.85" cy="205.59" r="3.6" fill="#0173B2"/>
<circle cx="584.90" cy="196.93" r="3.6" fill="#0173B2"/>
<circle cx="611.95" cy="188.56" r="3.6" fill="#0173B2"/>
<circle cx="639.00" cy="179.91" r="3.6" fill="#0173B2"/>
<circle cx="666.05" cy="170.98" r="3.6" fill="#0173B2"/>
<path d="M422.60 262.52 L428.01 259.23 L433.42 255.89 L438.83 252.58 L444.24 249.36 L449.65 246.32 L455.06 243.31 L460.47 240.28 L465.88 237.41 L471.29 234.89 L476.70 232.90 L482.11 231.43 L487.52 230.23 L492.93 229.15 L498.34 228.04 L503.75 226.75 L509.16 225.17 L514.57 223.40 L519.98 221.55 L525.39 219.74 L530.80 218.08 L536.21 216.56 L541.62 215.11 L547.03 213.72 L552.44 212.38 L557.85 211.08 L563.26 209.83 L568.67 208.63 L574.08 207.46 L579.49 206.33 L584.90 205.20 L590.31 204.12 L595.72 203.09 L601.13 202.06 L606.54 201.00 L611.95 199.88 L617.36 198.68 L622.77 197.40 L628.18 196.08 L633.59 194.76 L639.00 193.45 L644.41 192.17 L649.82 190.89 L655.23 189.61 L660.64 188.32 L666.05 187.01 L671.46 185.67 L676.87 184.31 L682.28 182.95 L687.69 181.58 L687.69 198.33 L682.28 199.35 L676.87 200.38 L671.46 201.39 L666.05 202.39 L660.64 203.36 L655.23 204.31 L649.82 205.24 L644.41 206.18 L639.00 207.12 L633.59 208.08 L628.18 209.07 L622.77 210.04 L617.36 210.98 L611.95 211.85 L606.54 212.62 L601.13 213.34 L595.72 214.02 L590.31 214.72 L584.90 215.46 L579.49 216.24 L574.08 217.03 L568.67 217.86 L563.26 218.72 L557.85 219.63 L552.44 220.58 L547.03 221.58 L541.62 222.63 L536.21 223.74 L530.80 224.91 L525.39 226.23 L519.98 227.71 L514.57 229.21 L509.16 230.64 L503.75 231.87 L498.34 232.82 L492.93 233.59 L487.52 234.33 L482.11 235.19 L476.70 236.32 L471.29 237.97 L465.88 240.15 L460.47 242.67 L455.06 245.36 L449.65 248.03 L444.24 250.73 L438.83 253.60 L433.42 256.58 L428.01 259.57 L422.60 262.52Z" fill="#029E73" fill-opacity="0.2" stroke="none"/>
<path d="M422.60 262.52 L428.01 259.40 L433.42 256.23 L438.83 253.09 L444.24 250.05 L449.65 247.17 L455.06 244.34 L460.47 241.48 L465.88 238.78 L471.29 236.43 L476.70 234.61 L482.11 233.31 L487.52 232.28 L492.93 231.37 L498.34 230.43 L503.75 229.31 L509.16 227.91 L514.57 226.31 L519.98 224.63 L525.39 222.99 L530.80 221.49 L536.21 220.15 L541.62 218.87 L547.03 217.65 L552.44 216.48 L557.85 215.35 L563.26 214.28 L568.67 213.24 L574.08 212.25 L579.49 211.28 L584.90 210.33 L590.31 209.42 L595.72 208.55 L601.13 207.70 L606.54 206.81 L611.95 205.87 L617.36 204.83 L622.77 203.72 L628.18 202.58 L633.59 201.42 L639.00 200.28 L644.41 199.17 L649.82 198.07 L655.23 196.96 L660.64 195.84 L666.05 194.70 L671.46 193.53 L676.87 192.35 L682.28 191.15 L687.69 189.96" stroke="#029E73" stroke-width="2.5" fill="none" stroke-linejoin="round"/>
<circle cx="422.60" cy="262.52" r="3.6" fill="#029E73"/>
<circle cx="449.65" cy="247.17" r="3.6" fill="#029E73"/>
<circle cx="476.70" cy="234.61" r="3.6" fill="#029E73"/>
<circle cx="503.75" cy="229.31" r="3.6" fill="#029E73"/>
<circle cx="530.80" cy="221.49" r="3.6" fill="#029E73"/>
<circle cx="557.85" cy="215.35" r="3.6" fill="#029E73"/>
<circle cx="584.90" cy="210.33" r="3.6" fill="#029E73"/>
<circle cx="611.95" cy="205.87" r="3.6" fill="#029E73"/>
<circle cx="639.00" cy="200.28" r="3.6" fill="#029E73"/>
<circle cx="666.05" cy="194.70" r="3.6" fill="#029E73"/>
<path d="M422.60 262.52 L428.01 258.81 L433.42 255.10 L438.83 251.38 L444.24 247.67 L449.65 243.96 L455.06 239.95 L460.47 235.65 L465.88 231.50 L471.29 227.93 L476.70 225.40 L482.11 223.73 L487.52 222.40 L492.93 221.27 L498.34 220.21 L503.75 219.11 L509.16 217.92 L514.57 216.72 L519.98 215.57 L525.39 214.53 L530.80 213.67 L536.21 212.98 L541.62 212.38 L547.03 211.84 L552.44 211.31 L557.85 210.74 L563.26 210.07 L568.67 209.33 L574.08 208.62 L579.49 207.99 L584.90 207.52 L590.31 207.20 L595.72 206.94 L601.13 206.72 L606.54 206.50 L611.95 206.26 L617.36 206.02 L622.77 205.78 L628.18 205.54 L633.59 205.29 L639.00 205.01 L644.41 204.67 L649.82 204.29 L655.23 203.89 L660.64 203.51 L666.05 203.19 L671.46 202.92 L676.87 202.69 L682.28 202.47 L687.69 202.24 L687.69 205.03 L682.28 205.20 L676.87 205.37 L671.46 205.54 L666.05 205.75 L660.64 206.02 L655.23 206.34 L649.82 206.68 L644.41 207.01 L639.00 207.28 L633.59 207.51 L628.18 207.71 L622.77 207.89 L617.36 208.07 L611.95 208.26 L606.54 208.44 L601.13 208.60 L595.72 208.77 L590.31 208.97 L584.90 209.23 L579.49 209.64 L574.08 210.21 L568.67 210.87 L563.26 211.55 L557.85 212.16 L552.44 212.68 L547.03 213.15 L541.62 213.64 L536.21 214.17 L530.80 214.81 L525.39 215.62 L519.98 216.60 L514.57 217.69 L509.16 218.83 L503.75 219.97 L498.34 221.01 L492.93 222.01 L487.52 223.08 L482.11 224.36 L476.70 225.97 L471.29 228.44 L465.88 231.95 L460.47 236.05 L455.06 240.29 L449.65 244.24 L444.24 247.90 L438.83 251.56 L433.42 255.21 L428.01 258.87 L422.60 262.52Z" fill="#D55E00" fill-opacity="0.2" stroke="none"/>
<path d="M422.60 262.52 L428.01 258.84 L433.42 255.15 L438.83 251.47 L444.24 247.79 L449.65 244.10 L455.06 240.12 L460.47 235.85 L465.88 231.72 L471.29 228.19 L476.70 225.68 L482.11 224.05 L487.52 222.74 L492.93 221.64 L498.34 220.61 L503.75 219.54 L509.16 218.38 L514.57 217.21 L519.98 216.09 L525.39 215.08 L530.80 214.24 L536.21 213.57 L541.62 213.01 L547.03 212.50 L552.44 211.99 L557.85 211.45 L563.26 210.81 L568.67 210.10 L574.08 209.41 L579.49 208.81 L584.90 208.38 L590.31 208.09 L595.72 207.86 L601.13 207.66 L606.54 207.47 L611.95 207.26 L617.36 207.04 L622.77 206.84 L628.18 206.62 L633.59 206.40 L639.00 206.14 L644.41 205.84 L649.82 205.48 L655.23 205.11 L660.64 204.76 L666.05 204.47 L671.46 204.23 L676.87 204.03 L682.28 203.83 L687.69 203.63" stroke="#D55E00" stroke-width="2.5" fill="none" stroke-linejoin="round"/>
<circle cx="422.60" cy="262.52" r="3.6" fill="#D55E00"/>
<circle cx="449.65" cy="244.10" r="3.6" fill="#D55E00"/>
<circle cx="476.70" cy="225.68" r="3.6" fill="#D55E00"/>
<circle cx="503.75" cy="219.54" r="3.6" fill="#D55E00"/>
<circle cx="530.80" cy="214.24" r="3.6" fill="#D55E00"/>
<circle cx="557.85" cy="211.45" r="3.6" fill="#D55E00"/>
<circle cx="584.90" cy="208.38" r="3.6" fill="#D55E00"/>
<circle cx="611.95" cy="207.26" r="3.6" fill="#D55E00"/>
<circle cx="639.00" cy="206.14" r="3.6" fill="#D55E00"/>
<circle cx="666.05" cy="204.47" r="3.6" fill="#D55E00"/>
</g>
<path d="M412.60 73.33V270.00" stroke="#000" stroke-width="1.7"/>
<path d="M422.60 279.20H693.10" stroke="#000" stroke-width="1.7"/>
<g font-family="DejaVu Sans" font-size="13" fill="#2b2b2b">
<text x="409.30" y="274.20" text-anchor="end">0</text>
<text x="409.30" y="246.29" text-anchor="end">10</text>
<text x="409.30" y="218.38" text-anchor="end">20</text>
<text x="409.30" y="190.47" text-anchor="end">30</text>
<text x="409.30" y="162.56" text-anchor="end">40</text>
<text x="409.30" y="134.65" text-anchor="end">50</text>
<text x="409.30" y="106.74" text-anchor="end">60</text>
<text x="409.30" y="78.83" text-anchor="end">70</text>
<text x="422.60" y="292.5" text-anchor="middle">0</text>
<text x="476.70" y="292.5" text-anchor="middle">10</text>
<text x="530.80" y="292.5" text-anchor="middle">20</text>
<text x="584.90" y="292.5" text-anchor="middle">30</text>
<text x="639.00" y="292.5" text-anchor="middle">40</text>
<text x="693.10" y="292.5" text-anchor="middle">50</text>
<text x="557.85" y="64.2" text-anchor="middle">Arms=10</text>
<text x="557.85" y="309" text-anchor="middle">Step</text>
</g>
<path d="M761.80 269.50H1032.30M761.80 241.59H1032.30M761.80 213.68H1032.30M761.80 185.77H1032.30M761.80 157.86H1032.30M761.80 129.95H1032.30M761.80 102.04H1032.30M761.80 74.13H1032.30M761.80 269.50V74.13M815.90 269.50V74.13M870.00 269.50V74.13M924.10 269.50V74.13M978.20 269.50V74.13M1032.30 269.50V74.13" stroke="#eeeeee" stroke-width="1" fill="none"/>
<g clip-path="url(#c2)">
<path d="M761.80 261.96 L767.21 257.34 L772.62 252.76 L778.03 248.15 L783.44 243.46 L788.85 238.63 L794.26 233.60 L799.67 228.42 L805.08 223.13 L810.49 217.81 L815.90 212.50 L821.31 207.12 L826.72 201.62 L832.13 196.14 L837.54 190.83 L842.95 185.82 L848.36 181.22 L853.77 176.94 L859.18 172.75 L864.59 168.47 L870.00 163.87 L875.41 158.87 L880.82 153.58 L886.23 148.11 L891.64 142.61 L897.05 137.19 L902.46 131.85 L907.87 126.50 L913.28 121.16 L918.69 115.82 L924.10 110.50 L929.51 105.21 L934.92 99.93 L940.33 94.67 L945.74 89.39 L951.15 84.10 L956.56 78.78 L961.97 73.44 L967.38 68.10 L972.79 62.75 L978.20 57.41 L983.61 52.04 L989.02 46.63 L994.43 41.24 L999.84 35.92 L1005.25 30.73 L1010.66 25.70 L1016.07 20.79 L1021.48 15.94 L1026.89 11.05 L1026.89 14.40 L1021.48 19.22 L1016.07 24.01 L1010.66 28.84 L1005.25 33.80 L999.84 38.93 L994.43 44.18 L989.02 49.50 L983.61 54.84 L978.20 60.15 L972.79 65.42 L967.38 70.70 L961.97 75.97 L956.56 81.24 L951.15 86.49 L945.74 91.72 L940.33 96.92 L934.92 102.12 L929.51 107.33 L924.10 112.55 L918.69 117.81 L913.28 123.07 L907.87 128.35 L902.46 133.63 L897.05 138.90 L891.64 144.25 L886.23 149.69 L880.82 155.08 L875.41 160.31 L870.00 165.24 L864.59 169.77 L859.18 173.98 L853.77 178.10 L848.36 182.32 L842.95 186.84 L837.54 191.79 L832.13 197.03 L826.72 202.44 L821.31 207.87 L815.90 213.18 L810.49 218.42 L805.08 223.68 L799.67 228.89 L794.26 234.01 L788.85 238.97 L783.44 243.74 L778.03 248.36 L772.62 252.89 L767.21 257.41 L761.80 261.96Z" fill="#949494" fill-opacity="0.2" stroke="none"/>
<path d="M761.80 261.96 L767.21 257.37 L772.62 252.82 L778.03 248.25 L783.44 243.60 L788.85 238.80 L794.26 233.81 L799.67 228.66 L805.08 223.41 L810.49 218.12 L815.90 212.84 L821.31 207.49 L826.72 202.03 L832.13 196.59 L837.54 191.31 L842.95 186.33 L848.36 181.77 L853.77 177.52 L859.18 173.37 L864.59 169.12 L870.00 164.56 L875.41 159.59 L880.82 154.33 L886.23 148.90 L891.64 143.43 L897.05 138.04 L902.46 132.74 L907.87 127.42 L913.28 122.11 L918.69 116.81 L924.10 111.53 L929.51 106.27 L934.92 101.03 L940.33 95.79 L945.74 90.55 L951.15 85.29 L956.56 80.01 L961.97 74.71 L967.38 69.40 L972.79 64.09 L978.20 58.78 L983.61 53.44 L989.02 48.07 L994.43 42.71 L999.84 37.42 L1005.25 32.27 L1010.66 27.27 L1016.07 22.40 L1021.48 17.58 L1026.89 12.73" stroke="#949494" stroke-width="2.5" fill="none" stroke-linejoin="round"/>
<circle cx="761.80" cy="261.96" r="3.6" fill="#949494"/>
<circle cx="788.85" cy="238.80" r="3.6" fill="#949494"/>
<circle cx="815.90" cy="212.84" r="3.6" fill="#949494"/>
<circle cx="842.95" cy="186.33" r="3.6" fill="#949494"/>
<circle cx="870.00" cy="164.56" r="3.6" fill="#949494"/>
<circle cx="897.05" cy="138.04" r="3.6" fill="#949494"/>
<circle cx="924.10" cy="111.53" r="3.6" fill="#949494"/>
<circle cx="951.15" cy="85.29" r="3.6" fill="#949494"/>
<circle cx="978.20" cy="58.78" r="3.6" fill="#949494"/>
<circle cx="1005.25" cy="32.27" r="3.6" fill="#949494"/>
<path d="M761.80 262.52 L767.21 258.19 L772.62 253.83 L778.03 249.48 L783.44 245.18 L788.85 240.96 L794.26 236.82 L799.67 232.73 L805.08 228.70 L810.49 224.72 L815.90 220.80 L821.31 216.97 L826.72 213.22 L832.13 209.51 L837.54 205.80 L842.95 202.03 L848.36 198.20 L853.77 194.33 L859.18 190.44 L864.59 186.56 L870.00 182.71 L875.41 178.88 L880.82 175.07 L886.23 171.26 L891.64 167.46 L897.05 163.66 L902.46 159.85 L907.87 156.04 L913.28 152.23 L918.69 148.42 L924.10 144.61 L929.51 140.81 L934.92 137.03 L940.33 133.24 L945.74 129.43 L951.15 125.56 L956.56 121.62 L961.97 117.62 L967.38 113.59 L972.79 109.60 L978.20 105.68 L983.61 101.85 L989.02 98.08 L994.43 94.34 L999.84 90.62 L1005.25 86.91 L1010.66 83.21 L1016.07 79.53 L1021.48 75.85 L1026.89 72.18 L1026.89 84.46 L1021.48 87.88 L1016.07 91.31 L1010.66 94.74 L1005.25 98.19 L999.84 101.65 L994.43 105.12 L989.02 108.60 L983.61 112.13 L978.20 115.70 L972.79 119.37 L967.38 123.12 L961.97 126.89 L956.56 130.65 L951.15 134.34 L945.74 137.95 L940.33 141.51 L934.92 145.05 L929.51 148.58 L924.10 152.13 L918.69 155.69 L913.28 159.25 L907.87 162.81 L902.46 166.37 L897.05 169.92 L891.64 173.48 L886.23 177.03 L880.82 180.58 L875.41 184.14 L870.00 187.72 L864.59 191.32 L859.18 194.95 L853.77 198.59 L848.36 202.21 L842.95 205.79 L837.54 209.31 L832.13 212.77 L826.72 216.23 L821.31 219.73 L815.90 223.31 L810.49 226.97 L805.08 230.70 L799.67 234.49 L794.26 238.33 L788.85 242.22 L783.44 246.19 L778.03 250.23 L772.62 254.33 L767.21 258.44 L761.80 262.52Z" fill="#0173B2" fill-opacity="0.2" stroke="none"/>
<path d="M761.80 262.52 L767.21 258.31 L772.62 254.08 L778.03 249.86 L783.44 245.68 L788.85 241.59 L794.26 237.57 L799.67 233.61 L805.08 229.70 L810.49 225.85 L815.90 222.05 L821.31 218.35 L826.72 214.73 L832.13 211.14 L837.54 207.55 L842.95 203.91 L848.36 200.20 L853.77 196.46 L859.18 192.70 L864.59 188.94 L870.00 185.21 L875.41 181.51 L880.82 177.82 L886.23 174.15 L891.64 170.47 L897.05 166.79 L902.46 163.11 L907.87 159.42 L913.28 155.74 L918.69 152.05 L924.10 148.37 L929.51 144.70 L934.92 141.04 L940.33 137.38 L945.74 133.69 L951.15 129.95 L956.56 126.13 L961.97 122.25 L967.38 118.35 L972.79 114.48 L978.20 110.69 L983.61 106.99 L989.02 103.34 L994.43 99.73 L999.84 96.14 L1005.25 92.55 L1010.66 88.97 L1016.07 85.42 L1021.48 81.87 L1026.89 78.32" stroke="#0173B2" stroke-width="2.5" fill="none" stroke-linejoin="round" stroke-dasharray="9.25 4"/>
<path d="M761.80 262.52 L767.21 258.20 L772.62 253.84 L778.03 249.49 L783.44 245.24 L788.85 241.16 L794.26 237.14 L799.67 233.13 L805.08 229.28 L810.49 225.71 L815.90 222.59 L821.31 219.90 L826.72 217.47 L832.13 215.23 L837.54 213.10 L842.95 211.00 L848.36 208.96 L853.77 207.01 L859.18 205.12 L864.59 203.25 L870.00 201.37 L875.41 199.47 L880.82 197.57 L886.23 195.70 L891.64 193.84 L897.05 192.01 L902.46 190.21 L907.87 188.45 L913.28 186.70 L918.69 184.96 L924.10 183.21 L929.51 181.44 L934.92 179.66 L940.33 177.89 L945.74 176.13 L951.15 174.41 L956.56 172.72 L961.97 171.07 L967.38 169.44 L972.79 167.80 L978.20 166.16 L983.61 164.53 L989.02 162.91 L994.43 161.28 L999.84 159.63 L1005.25 157.92 L1010.66 156.14 L1016.07 154.31 L1021.48 152.45 L1026.89 150.60 L1026.89 158.98 L1021.48 160.65 L1016.07 162.34 L1010.66 164.01 L1005.25 165.61 L999.84 167.15 L994.43 168.63 L989.02 170.09 L983.61 171.54 L978.20 173.00 L972.79 174.47 L967.38 175.93 L961.97 177.39 L956.56 178.88 L951.15 180.39 L945.74 181.94 L940.33 183.52 L934.92 185.13 L929.51 186.73 L924.10 188.33 L918.69 189.91 L913.28 191.49 L907.87 193.06 L902.46 194.66 L897.05 196.28 L891.64 197.94 L886.23 199.63 L880.82 201.33 L875.41 203.06 L870.00 204.78 L864.59 206.49 L859.18 208.19 L853.77 209.91 L848.36 211.69 L842.95 213.57 L837.54 215.49 L832.13 217.45 L826.72 219.52 L821.31 221.78 L815.90 224.30 L810.49 227.25 L805.08 230.64 L799.67 234.33 L794.26 238.17 L788.85 242.02 L783.44 245.93 L778.03 250.00 L772.62 254.18 L767.21 258.37 L761.80 262.52Z" fill="#DE8F05" fill-opacity="0.2" stroke="none"/>
<path d="M761.80 262.52 L767.21 258.29 L772.62 254.01 L778.03 249.75 L783.44 245.59 L788.85 241.59 L794.26 237.66 L799.67 233.73 L805.08 229.96 L810.49 226.48 L815.90 223.45 L821.31 220.84 L826.72 218.50 L832.13 216.34 L837.54 214.30 L842.95 212.28 L848.36 210.32 L853.77 208.46 L859.18 206.65 L864.59 204.87 L870.00 203.07 L875.41 201.26 L880.82 199.45 L886.23 197.66 L891.64 195.89 L897.05 194.14 L902.46 192.43 L907.87 190.75 L913.28 189.09 L918.69 187.44 L924.10 185.77 L929.51 184.09 L934.92 182.39 L940.33 180.70 L945.74 179.03 L951.15 177.40 L956.56 175.80 L961.97 174.23 L967.38 172.68 L972.79 171.14 L978.20 169.58 L983.61 168.03 L989.02 166.50 L994.43 164.96 L999.84 163.39 L1005.25 161.77 L1010.66 160.07 L1016.07 158.32 L1021.48 156.55 L1026.89 154.79" stroke="#DE8F05" stroke-width="2.5" fill="none" stroke-linejoin="round" stroke-dasharray="9.25 4"/>
<path d="M761.80 262.52 L767.21 258.24 L772.62 253.91 L778.03 249.61 L783.44 245.40 L788.85 241.36 L794.26 237.37 L799.67 233.37 L805.08 229.53 L810.49 226.02 L815.90 222.99 L821.31 220.44 L826.72 218.16 L832.13 216.07 L837.54 214.10 L842.95 212.16 L848.36 210.26 L853.77 208.45 L859.18 206.71 L864.59 204.99 L870.00 203.28 L875.41 201.58 L880.82 199.91 L886.23 198.26 L891.64 196.61 L897.05 194.96 L902.46 193.28 L907.87 191.59 L913.28 189.90 L918.69 188.24 L924.10 186.64 L929.51 185.09 L934.92 183.59 L940.33 182.11 L945.74 180.64 L951.15 179.15 L956.56 177.65 L961.97 176.16 L967.38 174.66 L972.79 173.16 L978.20 171.67 L983.61 170.18 L989.02 168.71 L994.43 167.23 L999.84 165.73 L1005.25 164.18 L1010.66 162.58 L1016.07 160.92 L1021.48 159.25 L1026.89 157.58 L1026.89 162.05 L1021.48 163.62 L1016.07 165.20 L1010.66 166.77 L1005.25 168.28 L999.84 169.74 L994.43 171.15 L989.02 172.54 L983.61 173.92 L978.20 175.31 L972.79 176.72 L967.38 178.12 L961.97 179.53 L956.56 180.94 L951.15 182.34 L945.74 183.73 L940.33 185.11 L934.92 186.50 L929.51 187.91 L924.10 189.37 L918.69 190.89 L913.28 192.45 L907.87 194.05 L902.46 195.65 L897.05 197.24 L891.64 198.80 L886.23 200.36 L880.82 201.92 L875.41 203.49 L870.00 205.10 L864.59 206.72 L859.18 208.35 L853.77 210.00 L848.36 211.72 L842.95 213.53 L837.54 215.38 L832.13 217.26 L826.72 219.25 L821.31 221.44 L815.90 223.90 L810.49 226.84 L805.08 230.26 L799.67 234.01 L794.26 237.92 L788.85 241.82 L783.44 245.77 L778.03 249.88 L772.62 254.10 L767.21 258.33 L761.80 262.52Z" fill="#029E73" fill-opacity="0.2" stroke="none"/>
<path d="M761.80 262.52 L767.21 258.29 L772.62 254.01 L778.03 249.75 L783.44 245.59 L788.85 241.59 L794.26 237.64 L799.67 233.69 L805.08 229.90 L810.49 226.43 L815.90 223.45 L821.31 220.94 L826.72 218.70 L832.13 216.66 L837.54 214.74 L842.95 212.84 L848.36 210.99 L853.77 209.23 L859.18 207.53 L864.59 205.86 L870.00 204.19 L875.41 202.54 L880.82 200.91 L886.23 199.31 L891.64 197.71 L897.05 196.10 L902.46 194.46 L907.87 192.82 L913.28 191.18 L918.69 189.57 L924.10 188.00 L929.51 186.50 L934.92 185.04 L940.33 183.61 L945.74 182.18 L951.15 180.75 L956.56 179.29 L961.97 177.84 L967.38 176.39 L972.79 174.94 L978.20 173.49 L983.61 172.05 L989.02 170.62 L994.43 169.19 L999.84 167.73 L1005.25 166.23 L1010.66 164.67 L1016.07 163.06 L1021.48 161.43 L1026.89 159.81" stroke="#029E73" stroke-width="2.5" fill="none" stroke-linejoin="round" stroke-dasharray="9.25 4"/>
<path d="M761.80 262.52 L767.21 258.43 L772.62 254.33 L778.03 250.23 L783.44 246.16 L788.85 242.14 L794.26 238.13 L799.67 234.11 L805.08 230.15 L810.49 226.29 L815.90 222.59 L821.31 219.04 L826.72 215.62 L832.13 212.28 L837.54 209.03 L842.95 205.83 L848.36 202.69 L853.77 199.63 L859.18 196.62 L864.59 193.67 L870.00 190.75 L875.41 187.88 L880.82 185.06 L886.23 182.28 L891.64 179.52 L897.05 176.78 L902.46 174.05 L907.87 171.34 L913.28 168.65 L918.69 165.99 L924.10 163.37 L929.51 160.80 L934.92 158.27 L940.33 155.77 L945.74 153.29 L951.15 150.80 L956.56 148.36 L961.97 145.96 L967.38 143.56 L972.79 141.10 L978.20 138.51 L983.61 135.74 L989.02 132.82 L994.43 129.83 L999.84 126.86 L1005.25 123.99 L1010.66 121.24 L1016.07 118.55 L1021.48 115.88 L1026.89 113.20 L1026.89 124.37 L1021.48 126.82 L1016.07 129.26 L1010.66 131.72 L1005.25 134.24 L999.84 136.88 L994.43 139.63 L989.02 142.39 L983.61 145.08 L978.20 147.62 L972.79 149.98 L967.38 152.22 L961.97 154.39 L956.56 156.56 L951.15 158.78 L945.74 161.03 L940.33 163.29 L934.92 165.56 L929.51 167.87 L924.10 170.21 L918.69 172.60 L913.28 175.03 L907.87 177.49 L902.46 179.98 L897.05 182.48 L891.64 184.99 L886.23 187.52 L880.82 190.07 L875.41 192.66 L870.00 195.30 L864.59 197.99 L859.18 200.72 L853.77 203.50 L848.36 206.34 L842.95 209.25 L837.54 212.22 L832.13 215.25 L826.72 218.35 L821.31 221.55 L815.90 224.87 L810.49 228.34 L805.08 231.97 L799.67 235.71 L794.26 239.49 L788.85 243.28 L783.44 247.07 L778.03 250.91 L772.62 254.78 L767.21 258.66 L761.80 262.52Z" fill="#0173B2" fill-opacity="0.2" stroke="none"/>
<path d="M761.80 262.52 L767.21 258.55 L772.62 254.56 L778.03 250.57 L783.44 246.61 L788.85 242.71 L794.26 238.81 L799.67 234.91 L805.08 231.06 L810.49 227.32 L815.90 223.73 L821.31 220.30 L826.72 216.98 L832.13 213.76 L837.54 210.62 L842.95 207.54 L848.36 204.52 L853.77 201.56 L859.18 198.67 L864.59 195.83 L870.00 193.03 L875.41 190.27 L880.82 187.56 L886.23 184.90 L891.64 182.26 L897.05 179.63 L902.46 177.01 L907.87 174.41 L913.28 171.84 L918.69 169.29 L924.10 166.79 L929.51 164.33 L934.92 161.92 L940.33 159.53 L945.74 157.16 L951.15 154.79 L956.56 152.46 L961.97 150.18 L967.38 147.89 L972.79 145.54 L978.20 143.07 L983.61 140.41 L989.02 137.61 L994.43 134.73 L999.84 131.87 L1005.25 129.11 L1010.66 126.48 L1016.07 123.90 L1021.48 121.35 L1026.89 118.79" stroke="#0173B2" stroke-width="2.5" fill="none" stroke-linejoin="round"/>
<circle cx="761.80" cy="262.52" r="3.6" fill="#0173B2"/>
<circle cx="788.85" cy="242.71" r="3.6" fill="#0173B2"/>
<circle cx="815.90" cy="223.73" r="3.6" fill="#0173B2"/>
<circle cx="842.95" cy="207.54" r="3.6" fill="#0173B2"/>
<circle cx="870.00" cy="193.03" r="3.6" fill="#0173B2"/>
<circle cx="897.05" cy="179.63" r="3.6" fill="#0173B2"/>
<circle cx="924.10" cy="166.79" r="3.6" fill="#0173B2"/>
<circle cx="951.15" cy="154.79" r="3.6" fill="#0173B2"/>
<circle cx="978.20" cy="143.07" r="3.6" fill="#0173B2"/>
<circle cx="1005.25" cy="129.11" r="3.6" fill="#0173B2"/>
<path d="M761.80 262.52 L767.21 258.11 L772.62 253.70 L778.03 249.28 L783.44 244.89 L788.85 240.52 L794.26 236.13 L799.67 231.69 L805.08 227.30 L810.49 223.07 L815.90 219.09 L821.31 215.25 L826.72 211.47 L832.13 207.89 L837.54 204.63 L842.95 201.83 L848.36 199.50 L853.77 197.47 L859.18 195.60 L864.59 193.77 L870.00 191.84 L875.41 189.78 L880.82 187.67 L886.23 185.58 L891.64 183.52 L897.05 181.56 L902.46 179.70 L907.87 177.90 L913.28 176.15 L918.69 174.42 L924.10 172.68 L929.51 170.93 L934.92 169.19 L940.33 167.47 L945.74 165.76 L951.15 164.08 L956.56 162.43 L961.97 160.81 L967.38 159.21 L972.79 157.62 L978.20 156.04 L983.61 154.47 L989.02 152.94 L994.43 151.40 L999.84 149.85 L1005.25 148.27 L1010.66 146.65 L1016.07 145.00 L1021.48 143.33 L1026.89 141.67 L1026.89 146.14 L1021.48 147.71 L1016.07 149.28 L1010.66 150.84 L1005.25 152.37 L999.84 153.86 L994.43 155.32 L989.02 156.76 L983.61 158.21 L978.20 159.68 L972.79 161.17 L967.38 162.67 L961.97 164.18 L956.56 165.71 L951.15 167.27 L945.74 168.86 L940.33 170.47 L934.92 172.11 L929.51 173.76 L924.10 175.41 L918.69 177.06 L913.28 178.70 L907.87 180.36 L902.46 182.07 L897.05 183.84 L891.64 185.71 L886.23 187.67 L880.82 189.68 L875.41 191.69 L870.00 193.66 L864.59 195.50 L859.18 197.24 L853.77 199.02 L848.36 200.96 L842.95 203.20 L837.54 205.91 L832.13 209.08 L826.72 212.57 L821.31 216.25 L815.90 220.00 L810.49 223.89 L805.08 228.03 L799.67 232.32 L794.26 236.67 L788.85 240.98 L783.44 245.25 L778.03 249.56 L772.62 253.88 L767.21 258.21 L761.80 262.52Z" fill="#029E73" fill-opacity="0.2" stroke="none"/>
<path d="M761.80 262.52 L767.21 258.16 L772.62 253.79 L778.03 249.42 L783.44 245.07 L788.85 240.75 L794.26 236.40 L799.67 232.01 L805.08 227.66 L810.49 223.48 L815.90 219.54 L821.31 215.75 L826.72 212.02 L832.13 208.48 L837.54 205.27 L842.95 202.52 L848.36 200.23 L853.77 198.24 L859.18 196.42 L864.59 194.63 L870.00 192.75 L875.41 190.73 L880.82 188.68 L886.23 186.62 L891.64 184.62 L897.05 182.70 L902.46 180.88 L907.87 179.13 L913.28 177.43 L918.69 175.74 L924.10 174.05 L929.51 172.35 L934.92 170.65 L940.33 168.97 L945.74 167.31 L951.15 165.67 L956.56 164.07 L961.97 162.50 L967.38 160.94 L972.79 159.40 L978.20 157.86 L983.61 156.34 L989.02 154.85 L994.43 153.36 L999.84 151.86 L1005.25 150.32 L1010.66 148.75 L1016.07 147.14 L1021.48 145.52 L1026.89 143.91" stroke="#029E73" stroke-width="2.5" fill="none" stroke-linejoin="round"/>
<circle cx="761.80" cy="262.52" r="3.6" fill="#029E73"/>
<circle cx="788.85" cy="240.75" r="3.6" fill="#029E73"/>
<circle cx="815.90" cy="219.54" r="3.6" fill="#029E73"/>
<circle cx="842.95" cy="202.52" r="3.6" fill="#029E73"/>
<circle cx="870.00" cy="192.75" r="3.6" fill="#029E73"/>
<circle cx="897.05" cy="182.70" r="3.6" fill="#029E73"/>
<circle cx="924.10" cy="174.05" r="3.6" fill="#029E73"/>
<circle cx="951.15" cy="165.67" r="3.6" fill="#029E73"/>
<circle cx="978.20" cy="157.86" r="3.6" fill="#029E73"/>
<circle cx="1005.25" cy="150.32" r="3.6" fill="#029E73"/>
<path d="M761.80 261.96 L767.21 257.33 L772.62 252.73 L778.03 248.12 L783.44 243.42 L788.85 238.57 L794.26 233.53 L799.67 228.34 L805.08 223.04 L810.49 217.71 L815.90 212.39 L821.31 206.99 L826.72 201.46 L832.13 195.97 L837.54 190.65 L842.95 185.64 L848.36 180.68 L853.77 175.64 L859.18 170.91 L864.59 166.88 L870.00 163.93 L875.41 161.90 L880.82 160.26 L886.23 158.86 L891.64 157.54 L897.05 156.16 L902.46 154.68 L907.87 153.19 L913.28 151.75 L918.69 150.41 L924.10 149.24 L929.51 148.23 L934.92 147.33 L940.33 146.50 L945.74 145.67 L951.15 144.82 L956.56 143.92 L961.97 143.01 L967.38 142.11 L972.79 141.23 L978.20 140.41 L983.61 139.65 L989.02 138.93 L994.43 138.24 L999.84 137.54 L1005.25 136.83 L1010.66 136.10 L1016.07 135.35 L1021.48 134.60 L1026.89 133.86 L1026.89 138.32 L1021.48 138.98 L1016.07 139.63 L1010.66 140.29 L1005.25 140.93 L999.84 141.55 L994.43 142.15 L989.02 142.76 L983.61 143.38 L978.20 144.05 L972.79 144.79 L967.38 145.57 L961.97 146.38 L956.56 147.21 L951.15 148.01 L945.74 148.77 L940.33 149.50 L934.92 150.25 L929.51 151.06 L924.10 151.97 L918.69 153.05 L913.28 154.30 L907.87 155.65 L902.46 157.05 L897.05 158.44 L891.64 159.73 L886.23 160.95 L880.82 162.26 L875.41 163.81 L870.00 165.75 L864.59 168.61 L859.18 172.55 L853.77 177.19 L848.36 182.14 L842.95 187.01 L837.54 191.92 L832.13 197.15 L826.72 202.56 L821.31 207.99 L815.90 213.30 L810.49 218.53 L805.08 223.77 L799.67 228.97 L794.26 234.08 L788.85 239.03 L783.44 243.78 L778.03 248.39 L772.62 252.92 L767.21 257.42 L761.80 261.96Z" fill="#D55E00" fill-opacity="0.2" stroke="none"/>
<path d="M761.80 261.96 L767.21 257.37 L772.62 252.82 L778.03 248.25 L783.44 243.60 L788.85 238.80 L794.26 233.81 L799.67 228.66 L805.08 223.41 L810.49 218.12 L815.90 212.84 L821.31 207.49 L826.72 202.01 L832.13 196.56 L837.54 191.28 L842.95 186.33 L848.36 181.41 L853.77 176.42 L859.18 171.73 L864.59 167.74 L870.00 164.84 L875.41 162.85 L880.82 161.26 L886.23 159.90 L891.64 158.64 L897.05 157.30 L902.46 155.86 L907.87 154.42 L913.28 153.02 L918.69 151.73 L924.10 150.60 L929.51 149.64 L934.92 148.79 L940.33 148.00 L945.74 147.22 L951.15 146.42 L956.56 145.56 L961.97 144.70 L967.38 143.84 L972.79 143.01 L978.20 142.23 L983.61 141.52 L989.02 140.84 L994.43 140.20 L999.84 139.55 L1005.25 138.88 L1010.66 138.19 L1016.07 137.49 L1021.48 136.79 L1026.89 136.09" stroke="#D55E00" stroke-width="2.5" fill="none" stroke-linejoin="round"/>
<circle cx="761.80" cy="261.96" r="3.6" fill="#D55E00"/>
<circle cx="788.85" cy="238.80" r="3.6" fill="#D55E00"/>
<circle cx="815.90" cy="212.84" r="3.6" fill="#D55E00"/>
<circle cx="842.95" cy="186.33" r="3.6" fill="#D55E00"/>
<circle cx="870.00" cy="164.84" r="3.6" fill="#D55E00"/>
<circle cx="897.05" cy="157.30" r="3.6" fill="#D55E00"/>
<circle cx="924.10" cy="150.60" r="3.6" fill="#D55E00"/>
<circle cx="951.15" cy="146.42" r="3.6" fill="#D55E00"/>
<circle cx="978.20" cy="142.23" r="3.6" fill="#D55E00"/>
<circle cx="1005.25" cy="138.88" r="3.6" fill="#D55E00"/>
</g>
<path d="M751.80 73.33V270.00" stroke="#000" stroke-width="1.7"/>
<path d="M761.80 279.20H1032.30" stroke="#000" stroke-width="1.7"/>
<g font-family="DejaVu Sans" font-size="13" fill="#2b2b2b">
<text x="748.50" y="274.20" text-anchor="end">0</text>
<text x="748.50" y="246.29" text-anchor="end">10</text>
<text x="748.50" y="218.38" text-anchor="end">20</text>
<text x="748.50" y="190.47" text-anchor="end">30</text>
<text x="748.50" y="162.56" text-anchor="end">40</text>
<text x="748.50" y="134.65" text-anchor="end">50</text>
<text x="748.50" y="106.74" text-anchor="end">60</text>
<text x="748.50" y="78.83" text-anchor="end">70</text>
<text x="761.80" y="292.5" text-anchor="middle">0</text>
<text x="815.90" y="292.5" text-anchor="middle">10</text>
<text x="870.00" y="292.5" text-anchor="middle">20</text>
<text x="924.10" y="292.5" text-anchor="middle">30</text>
<text x="978.20" y="292.5" text-anchor="middle">40</text>
<text x="1032.30" y="292.5" text-anchor="middle">50</text>
<text x="897.05" y="64.2" text-anchor="middle">Arms=20</text>
<text x="897.05" y="309" text-anchor="middle">Step</text>
</g>
<rect x="63.1" y="9" width="945.1" height="31.8" rx="2.5" fill="#fff" stroke="#dedede" stroke-width="1.3"/>
<path d="M70.60 23.6H102.60" stroke="#0173B2" stroke-width="4" stroke-linecap="round"/>
<circle cx="86.60" cy="23.6" r="5" fill="#0173B2"/>
<text x="116.00" y="29.9" font-family="DejaVu Sans" font-size="16.1" fill="#2b2b2b">2B, RLFT</text>
<path d="M218.70 23.6H251.10" stroke="#0173B2" stroke-width="4" stroke-dasharray="14.8 6.4"/>
<text x="263.40" y="29.9" font-family="DejaVu Sans" font-size="16.1" fill="#2b2b2b">2B, ICL</text>
<path d="M352.30 23.6H384.70" stroke="#029E73" stroke-width="4" stroke-dasharray="14.8 6.4"/>
<text x="397.40" y="29.9" font-family="DejaVu Sans" font-size="16.1" fill="#2b2b2b">9B, ICL</text>
<path d="M486.30 23.6H518.30" stroke="#029E73" stroke-width="4" stroke-linecap="round"/>
<circle cx="502.30" cy="23.6" r="5" fill="#029E73"/>
<text x="531.00" y="29.9" font-family="DejaVu Sans" font-size="16.1" fill="#2b2b2b">9B, RLFT</text>
<path d="M633.50 23.6H665.90" stroke="#DE8F05" stroke-width="4" stroke-dasharray="14.8 6.4"/>
<text x="678.50" y="29.9" font-family="DejaVu Sans" font-size="16.1" fill="#2b2b2b">27B, ICL</text>
<path d="M778.00 23.6H810.00" stroke="#D55E00" stroke-width="4" stroke-linecap="round"/>
<circle cx="794.00" cy="23.6" r="5" fill="#D55E00"/>
<text x="822.70" y="29.9" font-family="DejaVu Sans" font-size="16.1" fill="#2b2b2b">UCB</text>
<path d="M889.50 23.6H921.50" stroke="#949494" stroke-width="4" stroke-linecap="round"/>
<circle cx="905.50" cy="23.6" r="5" fill="#949494"/>
<text x="934.80" y="29.9" font-family="DejaVu Sans" font-size="16.1" fill="#2b2b2b">Random</text>
<g font-family="DejaVu Serif" font-stretch="condensed" font-size="23.4" fill="#111" stroke="#111" stroke-width="0.25">
<text x="3.03" y="374.1" textLength="75.10" lengthAdjust="spacingAndGlyphs" font-weight="bold">Figure</text>
<text x="87.99" y="374.1" textLength="14.77" lengthAdjust="spacingAndGlyphs" font-weight="bold">6</text>
<text x="112.25" y="374.1">|</text>
<text x="129.67" y="374.1" textLength="55.94" lengthAdjust="spacingAndGlyphs">Main</text>
<text x="194.77" y="374.1" textLength="131.83" lengthAdjust="spacingAndGlyphs">Comparison</text>
<text x="336.25" y="374.1" textLength="27.62" lengthAdjust="spacingAndGlyphs">on</text>
<text x="373.41" y="374.1" textLength="105.97" lengthAdjust="spacingAndGlyphs" font-weight="bold">Gaussian</text>
<text x="489.83" y="374.1" textLength="66.72" lengthAdjust="spacingAndGlyphs" font-weight="bold">MABs</text>
<text x="566.09" y="374.1" textLength="71.19" lengthAdjust="spacingAndGlyphs">button</text>
<text x="646.09" y="374.1" textLength="91.75" lengthAdjust="spacingAndGlyphs">scenario</text>
<text x="746.53" y="374.1" textLength="22.43" lengthAdjust="spacingAndGlyphs">in</text>
<text x="777.67" y="374.1" textLength="36.15" lengthAdjust="spacingAndGlyphs">the</text>
<text x="822.56" y="374.1" textLength="91.31" lengthAdjust="spacingAndGlyphs">medium</text>
<text x="923.49" y="374.1" textLength="57.25" lengthAdjust="spacingAndGlyphs">noise</text>
<text x="992.20" y="374.1">(</text>
<text x="1000.12" y="374.1" textLength="10.78" lengthAdjust="spacingAndGlyphs" font-style="italic">σ</text>
<text x="1024.23" y="374.1" textLength="16.57" lengthAdjust="spacingAndGlyphs">=</text>
<text x="1052.09" y="374.1" textLength="15.59" lengthAdjust="spacingAndGlyphs">1</text>
<text x="1065.10" y="374.1">)</text>
<text x="2.80" y="404.7" textLength="80.92" lengthAdjust="spacingAndGlyphs">setting.</text>
<text x="93.19" y="404.7" textLength="36.34" lengthAdjust="spacingAndGlyphs">We</text>
<text x="136.72" y="404.7" textLength="91.02" lengthAdjust="spacingAndGlyphs">compare</text>
<text x="233.96" y="404.7" textLength="122.17" lengthAdjust="spacingAndGlyphs">cumulative</text>
<text x="362.01" y="404.7" textLength="76.33" lengthAdjust="spacingAndGlyphs">regrets</text>
<text x="445.63" y="404.7" textLength="71.02" lengthAdjust="spacingAndGlyphs">(lower</text>
<text x="526.08" y="404.7" textLength="15.63" lengthAdjust="spacingAndGlyphs">is</text>
<text x="550.11" y="404.7" textLength="72.13" lengthAdjust="spacingAndGlyphs">better)</text>
<text x="629.72" y="404.7" textLength="19.97" lengthAdjust="spacingAndGlyphs">of</text>
<text x="658.32" y="404.7" textLength="69.95" lengthAdjust="spacingAndGlyphs">classic</text>
<text x="738.73" y="404.7" textLength="95.06" lengthAdjust="spacingAndGlyphs">baselines</text>
<text x="840.02" y="404.7" textLength="76.79" lengthAdjust="spacingAndGlyphs">against</text>
<text x="924.56" y="404.7" textLength="32.88" lengthAdjust="spacingAndGlyphs">ICL</text>
<text x="966.98" y="404.7" textLength="40.31" lengthAdjust="spacingAndGlyphs">and</text>
<text x="1016.39" y="404.7" textLength="58.78" lengthAdjust="spacingAndGlyphs">RLFT</text>
<text x="3.52" y="435.6" textLength="143.89" lengthAdjust="spacingAndGlyphs">performances</text>
<text x="156.65" y="435.6" textLength="28.28" lengthAdjust="spacingAndGlyphs">for</text>
<text x="192.98" y="435.6" textLength="22.54" lengthAdjust="spacingAndGlyphs">5,</text>
<text x="218.83" y="435.6" textLength="38.43" lengthAdjust="spacingAndGlyphs">10,</text>
<text x="262.29" y="435.6" textLength="39.99" lengthAdjust="spacingAndGlyphs">and</text>
<text x="310.24" y="435.6" textLength="27.90" lengthAdjust="spacingAndGlyphs">20</text>
<text x="345.74" y="435.6" textLength="57.84" lengthAdjust="spacingAndGlyphs">arms.</text>
<text x="411.60" y="435.6" textLength="39.44" lengthAdjust="spacingAndGlyphs">See</text>
<text x="457.20" y="435.6" textLength="71.19" lengthAdjust="spacingAndGlyphs">Figure</text>
<text x="533.38" y="435.6" textLength="28.07" lengthAdjust="spacingAndGlyphs" fill="#1a1adb">19</text>
<text x="569.34" y="435.6" textLength="28.90" lengthAdjust="spacingAndGlyphs">for</text>
<text x="606.06" y="435.6" textLength="10.27" lengthAdjust="spacingAndGlyphs" font-style="italic">σ</text>
<text x="624.48" y="435.6" textLength="17.78" lengthAdjust="spacingAndGlyphs">=</text>
<text x="646.77" y="435.6" textLength="36.46" lengthAdjust="spacingAndGlyphs">0.1</text>
<text x="688.99" y="435.6" textLength="39.89" lengthAdjust="spacingAndGlyphs">and</text>
<text x="736.59" y="435.6" textLength="11.29" lengthAdjust="spacingAndGlyphs" font-style="italic">σ</text>
<text x="754.48" y="435.6" textLength="17.78" lengthAdjust="spacingAndGlyphs">=</text>
<text x="778.38" y="435.6" textLength="20.32" lengthAdjust="spacingAndGlyphs">3.</text>
</g>
<g font-family="Noto Sans CJK SC" font-size="24.7" font-weight="400">
<text x="779.8" y="426" fill="#3c3c3c" transform="translate(0.9 1.1)">掘金技术社区 @ 机器之心</text>
<text x="779.8" y="426" fill="#dadada">掘金技术社区 @ 机器之心</text>
</g>
</svg>
</body></html>
